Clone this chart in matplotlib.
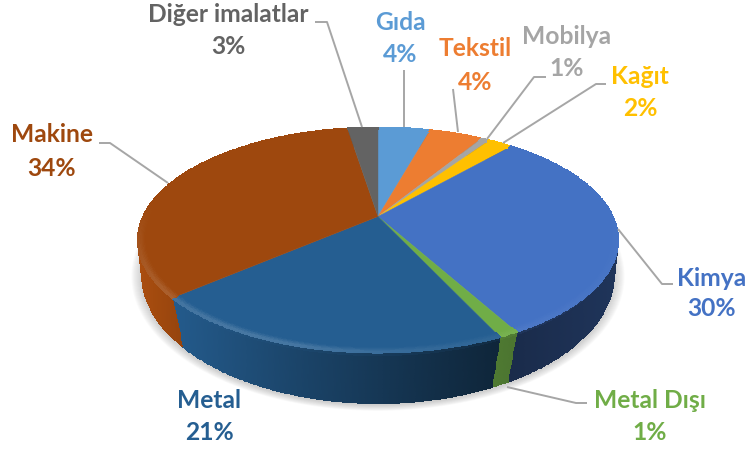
import numpy as np
import matplotlib
matplotlib.use('Agg')
import matplotlib.pyplot as plt
from matplotlib.colors import to_rgb

# slices clockwise from 12 o'clock
names = ['Gıda', 'Tekstil', 'Mobilya', 'Kağıt', 'Kimya', 'Metal Dışı', 'Metal', 'Makine', 'Diğer imalatlar']
values = [4.3, 4.4, 0.7, 2.0, 30.55, 1.1, 20.55, 33.8, 2.5]
labels = ['4%', '4%', '1%', '2%', '30%', '1%', '21%', '34%', '3%']
colors = ['#5B9BD5', '#ED7D31', '#A5A5A5', '#FFC000', '#4472C4', '#70AD47', '#255E91', '#9E480E', '#636363']

# label centres in picture pixels: x, y of name, y of percent
label_x = [400, 475, 567, 640, 712, 650, 209, 52, 228]
name_y = [23, 49, 37, 77, 278, 401, 401, 135, 15]
pct_y = [55, 82, 69, 108, 309, 433, 433, 168, 47]

leaders = [
    [(404, 70), (404, 127)],
    [(453, 89), (458, 132)],
    [(546, 77), (534, 77), (487, 139)],
    [(606, 84), (596, 84), (503, 143)],
    [(673, 284), (662, 284), (618, 229)],
    [(587, 403), (576, 403), (507, 387)],
    None,
    [(99, 143), (110, 143), (168, 183)],
    [(315, 22), (327, 22), (362, 127)],
]

# perspective of the two discs: a, b, k, apex y
TOP = (234.7, 107.6, 0.209, 216.5)
BOTTOM = (233.3, 126.0, 0.15, 254.8)
CX = 378


def project(theta, r, disc):
    a, b, k, y0 = disc
    u = r * np.sin(theta)
    v = r * np.cos(theta)
    w = 1 + k * v
    return CX + a * u / w, y0 - b * v / w


fig = plt.figure(figsize=(7.47, 4.5), dpi=100)
ax = fig.add_axes([0, 0, 1, 1])
ax.set_xlim(0, 747)
ax.set_ylim(450, 0)
ax.axis('off')

edges = np.cumsum([0] + values) / sum(values) * 2 * np.pi

# soft shadow under the pie
circle = np.linspace(0, 2 * np.pi, 300)
sx, sy = project(circle, 1, BOTTOM)
for s in np.linspace(1.0, 1.045, 12):
    ax.fill(CX + (sx - CX) * s, 276 + (sy - 274) * s, color='#808080', alpha=0.035, lw=0, zorder=1)

# side wall, shading goes dark towards the right
for i, col in enumerate(colors):
    base = np.array(to_rgb(col))
    th = np.linspace(edges[i], edges[i + 1], max(6, int(values[i] * 8)))
    xt, yt = project(th, 1, TOP)
    xb, yb = project(th, 1, BOTTOM)
    t = np.linspace(0, 1, 12)
    X = np.outer(1 - t, xt) + np.outer(t, xb)
    Y = np.outer(1 - t, yt) + np.outer(t, yb)
    xm = (X[:-1, :-1] + X[1:, 1:]) / 2
    tm = (t[:-1] + t[1:]) / 2
    shade = np.interp(xm, [138, 180, 300, 430, 510, 618], [1.08, 0.95, 0.72, 0.5, 0.38, 0.46])
    if names[i] == 'Metal Dışı':
        shade = shade + 0.3
    rgb = np.clip(base[None, None, :] * shade[:, :, None], 0, 1)
    # slightly brighter just under the rim
    glow = np.clip(1 - tm / 0.1, 0, 1)[:, None, None] * 0.2
    rgb = np.clip(rgb * (1 - glow) + base * glow, 0, 1)
    ax.pcolormesh(X, Y, rgb, shading='flat', edgecolor='face', linewidth=0.2, zorder=2)

# top face
for i, col in enumerate(colors):
    th = np.linspace(edges[i], edges[i + 1], max(6, int(values[i] * 8)))
    xt, yt = project(th, 1, TOP)
    ax.fill(np.r_[CX, xt], np.r_[TOP[3], yt], color=col, lw=0.3, ec=col, zorder=3)

# lighter bevel along the front rim
for i, col in enumerate(colors):
    base = np.array(to_rgb(col))
    th = np.linspace(edges[i], edges[i + 1], max(6, int(values[i] * 8)))
    r = np.linspace(0.975, 1, 6)
    X = np.array([project(th, q, TOP)[0] for q in r])
    Y = np.array([project(th, q, TOP)[1] for q in r])
    xm = (X[:-1, :-1] + X[1:, 1:]) / 2
    rm = (r[:-1] + r[1:]) / 2
    front = np.clip(-np.cos((th[:-1] + th[1:]) / 2) + 0.1, 0, 1)
    left = np.interp(xm, [138, 300, 450, 618], [0.2, 0.16, 0.06, 0.03])
    s = left * front[None, :] * ((rm - 0.975) / 0.025)[:, None]
    rgb = np.clip(base[None, None, :] * (1 - s[:, :, None]) + s[:, :, None], 0, 1)
    ax.pcolormesh(X, Y, rgb, shading='flat', edgecolor='face', linewidth=0.2, zorder=4)

# leader lines and labels
for i, name in enumerate(names):
    if leaders[i] is not None:
        pts = np.array(leaders[i])
        ax.plot(pts[:, 0], pts[:, 1], color='#A6A6A6', lw=1.4, zorder=5, solid_capstyle='butt')
    ax.text(label_x[i], name_y[i], name, color=colors[i], family='Lato', weight='bold',
            fontsize=17.7, ha='center', va='center', zorder=6)
    ax.text(label_x[i], pct_y[i], labels[i], color=colors[i], family='Lato', weight='bold',
            fontsize=17.7, ha='center', va='center', zorder=6)

fig.savefig('out.png', dpi=100)
